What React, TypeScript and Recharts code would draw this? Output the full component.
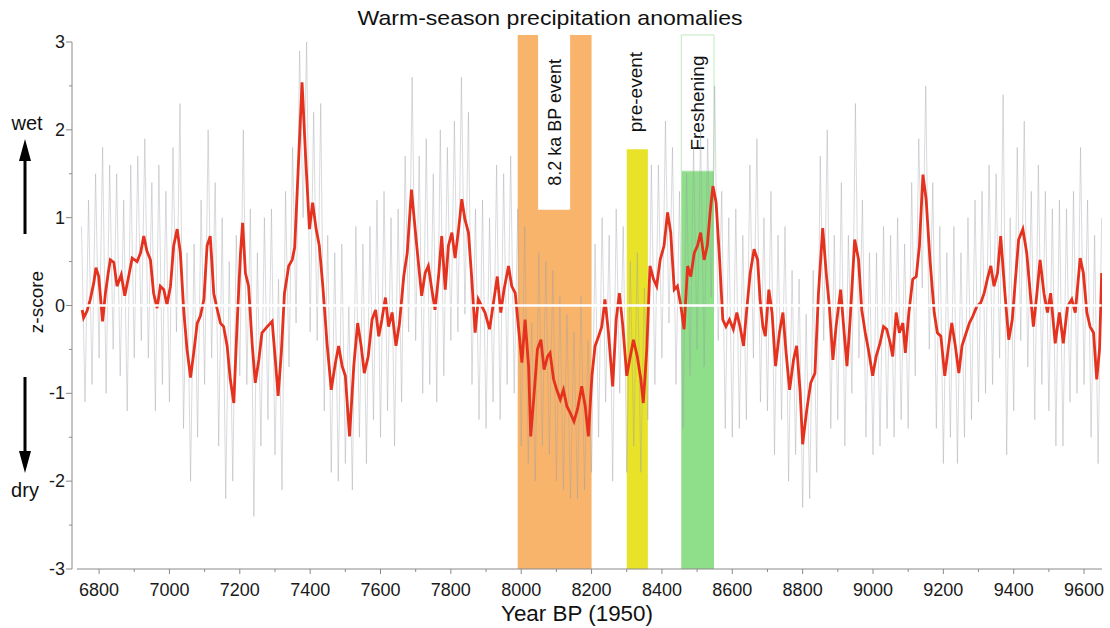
import {
  ComposedChart,
  Line,
  XAxis,
  YAxis,
  ReferenceArea,
  ReferenceLine,
} from "recharts";

// smoothed record (red)
const redYears = [
  6752, 6756, 6766, 6775, 6785, 6791, 6799, 6810, 6818, 6826, 6832, 6842, 6851, 6863, 6873, 6884, 6894, 6908, 6918, 6927,
  6936, 6946, 6955, 6965, 6974, 6984, 6993, 7003, 7012, 7022, 7031, 7041, 7050, 7060, 7069, 7079, 7088, 7098, 7107, 7116,
  7126, 7135, 7145, 7154, 7164, 7173, 7183, 7192, 7202, 7208, 7216, 7225, 7235, 7244, 7254, 7263, 7278, 7292, 7301, 7309,
  7318, 7327, 7339, 7349, 7356, 7366, 7377, 7387, 7398, 7407, 7417, 7426, 7436, 7448, 7460, 7472, 7481, 7491, 7500, 7512,
  7524, 7535, 7545, 7554, 7565, 7576, 7586, 7595, 7604, 7614, 7623, 7633, 7644, 7654, 7666, 7676, 7688, 7694, 7703, 7717,
  7727, 7736, 7746, 7755, 7765, 7774, 7784, 7793, 7803, 7812, 7822, 7831, 7840, 7850, 7859, 7869, 7878, 7888, 7897, 7910,
  7921, 7932, 7942, 7951, 7964, 7973, 7983, 7992, 8002, 8011, 8021, 8027, 8037, 8046, 8056, 8065, 8075, 8082, 8092, 8101,
  8111, 8120, 8130, 8139, 8150, 8160, 8172, 8182, 8191, 8201, 8210, 8220, 8229, 8238, 8248, 8260, 8270, 8279, 8289, 8300,
  8310, 8319, 8330, 8340, 8347, 8357, 8366, 8376, 8385, 8395, 8406, 8416, 8425, 8435, 8444, 8454, 8463, 8473, 8482, 8492,
  8501, 8510, 8520, 8529, 8537, 8545, 8554, 8564, 8573, 8582, 8592, 8603, 8613, 8622, 8632, 8641, 8651, 8662, 8672, 8679,
  8687, 8694, 8704, 8713, 8723, 8734, 8744, 8753, 8763, 8774, 8783, 8793, 8800, 8812, 8823, 8835, 8845, 8857, 8867, 8876,
  8886, 8895, 8908, 8918, 8926, 8935, 8948, 8959, 8968, 8978, 8987, 8999, 9009, 9020, 9030, 9039, 9049, 9056, 9066, 9075,
  9085, 9092, 9102, 9113, 9123, 9132, 9142, 9151, 9162, 9174, 9183, 9193, 9204, 9215, 9224, 9234, 9244, 9253, 9265, 9274,
  9284, 9295, 9306, 9316, 9325, 9335, 9344, 9354, 9363, 9375, 9386, 9396, 9405, 9414, 9426, 9437, 9447, 9456, 9466, 9475,
  9486, 9496, 9505, 9518, 9530, 9541, 9553, 9565, 9575, 9589, 9598, 9608, 9617, 9627, 9636, 9644, 9650,
];
const redValues = [
  -0.05, -0.14, -0.06, 0.07, 0.26, 0.43, 0.33, -0.18, 0.14, 0.37, 0.52, 0.49, 0.22, 0.35, 0.11, 0.33, 0.54, 0.5, 0.6, 0.79,
  0.62, 0.52, 0.14, -0.03, 0.22, 0.18, 0.01, 0.22, 0.68, 0.87, 0.6, -0.08, -0.5, -0.82, -0.54, -0.2, -0.12, 0.07, 0.68, 0.79,
  0.14, -0.03, -0.2, -0.24, -0.46, -0.84, -1.11, -0.24, 0.6, 0.94, 0.37, 0.22, -0.43, -0.88, -0.62, -0.31, -0.24, -0.18, -0.62, -1.03,
  -0.54, 0.14, 0.45, 0.52, 0.66, 1.55, 2.54, 1.7, 0.87, 1.17, 0.87, 0.68, 0.22, -0.43, -0.96, -0.65, -0.46, -0.69, -0.8, -1.49,
  -0.69, -0.2, -0.46, -0.77, -0.58, -0.16, -0.05, -0.35, -0.16, 0.09, -0.24, -0.08, -0.46, -0.2, 0.33, 0.6, 1.32, 1.06, 0.68, 0.11,
  0.37, 0.45, 0.18, -0.05, 0.33, 0.79, 0.18, 0.68, 0.83, 0.54, 0.87, 1.21, 0.98, 0.83, 0.33, -0.31, 0.07, -0.01, -0.08, -0.27,
  0.03, 0.33, -0.08, 0.18, 0.45, 0.22, 0.14, -0.24, -0.65, -0.16, -0.69, -1.49, -0.99, -0.5, -0.39, -0.73, -0.58, -0.54, -0.84, -0.96,
  -1.07, -0.96, -1.15, -1.22, -1.32, -1.18, -0.92, -1.15, -1.49, -0.8, -0.46, -0.35, -0.24, 0.07, -0.31, -0.92, -0.16, 0.14, -0.24, -0.8,
  -0.58, -0.39, -0.58, -0.84, -1.11, -0.5, 0.45, 0.3, 0.22, 0.52, 0.68, 1.06, 0.83, 0.18, 0.22, -0.01, -0.27, 0.45, 0.33, 0.6,
  0.68, 0.83, 0.52, 0.68, 1.06, 1.36, 1.17, 0.52, -0.16, -0.24, -0.16, -0.27, -0.08, -0.24, -0.46, -0.05, 0.37, 0.64, 0.52, 0.07,
  -0.24, -0.35, 0.18, -0.08, -0.69, -0.31, -0.08, -0.54, -0.96, -0.62, -0.46, -0.99, -1.58, -1.18, -0.88, -0.77, 0.14, 0.88, 0.37, -0.01,
  -0.62, -0.24, 0.18, -0.31, -0.69, -0.16, 0.75, 0.52, -0.05, -0.31, -0.5, -0.8, -0.58, -0.43, -0.24, -0.27, -0.43, -0.58, -0.08, -0.31,
  -0.2, -0.54, -0.08, 0.3, 0.33, 0.68, 1.49, 1.21, 0.52, -0.08, -0.31, -0.35, -0.8, -0.46, -0.2, -0.46, -0.77, -0.46, -0.31, -0.2,
  -0.12, -0.01, 0.03, 0.14, 0.3, 0.45, 0.22, 0.37, 0.79, 0.14, -0.39, -0.16, 0.3, 0.75, 0.87, 0.6, 0.14, -0.24, 0.14, 0.52,
  0.14, -0.08, 0.14, -0.43, -0.08, -0.43, -0.01, 0.07, -0.08, 0.54, 0.37, -0.08, -0.24, -0.31, -0.84, -0.5, 0.37,
];

// raw record (grey), one value every 10 years from 6750
const grayStart = 6750;
const grayStep = 10;
const grayValues = [
  0.9, -1.1, 1.2, -0.9, 1.5, -0.6, 1.8, -1.0, 1.6, -0.5,
  1.5, -0.8, 1.2, -1.2, 1.6, -0.6, 1.7, -0.4, 1.9, -0.6,
  1.4, -1.2, 1.6, -0.9, 1.3, -1.1, 1.8, -0.3, 2.3, -1.4,
  0.6, -2.0, 0.7, -1.5, 1.2, -0.9, 2.0, -0.6, 1.4, -1.6,
  1.0, -2.2, 0.5, -2.0, 0.8, -0.8, 2.0, -0.9, 1.1, -2.4,
  0.6, -1.6, 1.0, -1.3, 1.1, -1.7, 0.3, -2.1, 1.3, -0.7,
  1.8, -0.2, 2.9, 1.0, 3.0, -0.3, 2.2, -0.4, 2.3, -1.2,
  0.8, -1.9, 0.6, -2.0, 0.7, -1.8, 0.0, -2.1, 0.9, -1.5,
  0.7, -1.8, 0.9, -1.3, 1.2, -1.5, 1.3, -1.2, 1.0, -1.6,
  1.1, -1.1, 1.7, -0.3, 2.6, -0.4, 1.7, -1.0, 1.9, -0.9,
  1.5, -1.1, 2.0, -0.8, 1.8, -0.4, 2.1, -0.3, 2.6, -0.1,
  2.2, -0.9, 1.1, -1.3, 1.2, -1.4, 1.0, -1.1, 1.6, -1.3,
  1.5, -0.9, 1.7, -1.0, 1.1, -1.6, 0.9, -1.8, -0.2, -2.0,
  0.6, -1.6, 0.5, -1.7, 0.4, -2.0, 0.1, -2.1, -0.1, -2.2,
  -0.3, -2.2, 0.1, -2.1, -0.4, -1.9, 0.7, -1.5, 1.0, -1.1,
  0.8, -2.0, 1.1, -1.0, 0.9, -1.9, 0.5, -1.6, 0.6, -1.9,
  0.2, -1.3, 1.6, -0.9, 1.6, -0.6, 2.1, -0.2, 1.8, -0.9,
  1.3, -1.4, 1.5, -0.8, 1.8, -0.5, 2.0, -0.7, 1.9, 0.1,
  2.5, -0.4, 1.3, -1.4, 1.0, -1.5, 1.1, -1.4, 0.8, -1.3,
  1.6, -0.6, 1.9, -1.1, 1.0, -1.2, 1.3, -1.7, 0.8, -1.3,
  0.9, -2.0, 0.4, -1.7, 0.3, -2.3, -0.1, -2.2, 0.4, -1.9,
  1.7, -0.4, 2.0, -1.4, 0.8, -1.3, 1.4, -1.6, 0.8, -1.0,
  2.3, -0.6, 1.2, -1.5, 0.6, -1.7, 0.6, -1.6, 0.9, -1.4,
  0.8, -1.5, 1.0, -1.3, 0.7, -1.4, 1.4, -0.8, 1.9, 0.2,
  2.5, -0.5, 1.4, -1.4, 0.9, -1.8, 0.6, -1.5, 0.9, -1.8,
  0.6, -1.5, 1.0, -1.3, 1.2, -1.1, 1.3, -1.0, 1.6, -0.9,
  1.5, -0.6, 2.4, -1.7, 1.0, -1.2, 1.8, -0.4, 2.1, -0.7,
  1.3, -1.3, 1.6, -0.9, 1.3, -1.2, 1.1, -1.6, 1.2, -1.6,
  1.1, -1.1, 1.3, -1.0, 1.8, -0.9, 1.2, -1.5, 0.8, -1.8,
  1.0,
];

const xTicks = [
  6800, 6900, 7000, 7100, 7200, 7300, 7400, 7500, 7600, 7700, 7800, 7900, 8000, 8100, 8200,
  8300, 8400, 8500, 8600, 8700, 8800, 8900, 9000, 9100, 9200, 9300, 9400, 9500, 9600,
];
const yTicks = [-3, -2.5, -2, -1.5, -1, -0.5, 0, 0.5, 1, 1.5, 2, 2.5, 3];

// shaded periods
const eventBand = { from: 7990, to: 8200 };
const eventLabelBox = { from: 8048, to: 8139, bottom: 1.09 };
const preEventBand = { from: 8300, to: 8360, top: 1.78 };
const freshBand = { from: 8455, to: 8548, top: 1.53 };
const bandTop = 3.08;

const redData = redYears.map((year, i) => ({ year, z: redValues[i] }));
const grayData = grayValues.map((z, i) => ({ year: grayStart + i * grayStep, z }));

const AXIS = "#8a8a8a";
const FONT = "'Liberation Sans', Arial, sans-serif";

const YTick = ({ x, y, payload }: any) => {
  const v = payload.value;
  const major = Number.isInteger(v);
  return (
    <g>
      <line x1={x - (major ? 6 : 3)} x2={x} y1={y} y2={y} stroke={AXIS} />
      {major && (
        <text x={x - 7} y={y + 6} textAnchor="end" fontSize={18} fontFamily={FONT} fill="#1a1a1a">
          {v}
        </text>
      )}
    </g>
  );
};

const XTick = ({ x, y, payload }: any) => {
  const v = payload.value;
  const major = v % 200 === 0;
  return (
    <g>
      <line x1={x} x2={x} y1={y} y2={y + (major ? 5 : 3)} stroke={AXIS} />
      {major && (
        <text x={x} y={y + 27} textAnchor="middle" fontSize={18} fontFamily={FONT} fill="#1a1a1a">
          {v}
        </text>
      )}
    </g>
  );
};

const bandLabel = (text: string, size: number, shift: number) => (props: any) => {
  const vb = props.viewBox;
  const cx = vb.x + vb.width / 2 + size * shift;
  const cy = vb.y + vb.height / 2;
  return (
    <text
      x={cx}
      y={cy}
      transform={`rotate(-90 ${cx} ${cy})`}
      textAnchor="middle"
      fontSize={size}
      fontFamily={FONT}
      fill="#111"
    >
      {text}
    </text>
  );
};

export default function App() {
  return (
    <div style={{ position: "absolute", left: 0, top: 0, width: 1110, height: 628, background: "#fff" }}>
      <ComposedChart width={1110} height={628} margin={{ top: 42, right: 8, left: 42, bottom: 29 }}>
        <XAxis
          dataKey="year"
          type="number"
          domain={[6723, 9651]}
          allowDataOverflow
          ticks={xTicks}
          interval={0}
          axisLine={false}
          tickLine={false}
          tickSize={0}
          tickMargin={0}
          tick={<XTick />}
          height={30}
        />
        <YAxis
          type="number"
          domain={[-3, 3]}
          allowDataOverflow
          ticks={yTicks}
          interval={0}
          axisLine={{ stroke: AXIS }}
          tickLine={false}
          tickSize={0}
          tickMargin={0}
          tick={<YTick />}
          width={30}
        />
        <Line
          data={grayData}
          dataKey="z"
          type="linear"
          stroke="#9a9fa5"
          strokeOpacity={0.38}
          strokeWidth={1}
          dot={false}
          activeDot={false}
          isAnimationActive={false}
        />
        <ReferenceArea
          x1={eventBand.from}
          x2={eventBand.to}
          y1={-3}
          y2={bandTop}
          fill="#f8a752"
          fillOpacity={0.85}
          stroke="none"
          ifOverflow="visible"
        />
        <ReferenceArea
          x1={eventLabelBox.from}
          x2={eventLabelBox.to}
          y1={eventLabelBox.bottom}
          y2={bandTop}
          fill="#ffffff"
          fillOpacity={1}
          stroke="none"
          ifOverflow="visible"
          label={bandLabel("8.2 ka BP event", 18, 0.36)}
        />
        <ReferenceArea
          x1={preEventBand.from}
          x2={preEventBand.to}
          y1={-3}
          y2={preEventBand.top}
          fill="#e4dd04"
          fillOpacity={0.85}
          stroke="none"
          ifOverflow="visible"
        />
        <ReferenceArea
          x1={preEventBand.from}
          x2={preEventBand.to}
          y1={preEventBand.top}
          y2={bandTop}
          fill="none"
          fillOpacity={0}
          stroke="none"
          ifOverflow="visible"
          label={bandLabel("pre-event", 19, 0.27)}
        />
        <ReferenceArea
          x1={freshBand.from}
          x2={freshBand.to}
          y1={-3}
          y2={freshBand.top}
          fill="#7ad875"
          fillOpacity={0.85}
          stroke="none"
          ifOverflow="visible"
        />
        <ReferenceArea
          x1={freshBand.from}
          x2={freshBand.to}
          y1={freshBand.top}
          y2={bandTop}
          fill="#ffffff"
          fillOpacity={1}
          stroke="#bfe9bc"
          strokeWidth={1}
          ifOverflow="visible"
          label={bandLabel("Freshening", 19, 0.36)}
        />
        <Line
          data={redData}
          dataKey="z"
          type="linear"
          stroke="#e5321f"
          strokeWidth={2.8}
          dot={false}
          activeDot={false}
          isAnimationActive={false}
        />
        <ReferenceLine
          segment={[{ x: 6750, y: 0 }, { x: 9650, y: 0 }]}
          stroke="#ffffff"
          strokeWidth={2.5}
          ifOverflow="visible"
        />
        <ReferenceLine
          segment={[{ x: 6737, y: -3 }, { x: 9651, y: -3 }]}
          stroke={AXIS}
          strokeWidth={1}
          ifOverflow="visible"
        />
      </ComposedChart>
      <svg
        width={1110}
        height={628}
        style={{ position: "absolute", left: 0, top: 0, pointerEvents: "none" }}
        fontFamily={FONT}
      >
        <text x={550} y={25} textAnchor="middle" fontSize={21} fill="#111" textLength={385} lengthAdjust="spacingAndGlyphs">
          Warm-season precipitation anomalies
        </text>
        <text x={577} y={621} textAnchor="middle" fontSize={22} fill="#111" textLength={152} lengthAdjust="spacingAndGlyphs">
          Year BP (1950)
        </text>
        <text x={27} y={130} textAnchor="middle" fontSize={20} fill="#111">
          wet
        </text>
        <line x1={25} x2={25} y1={234} y2={158} stroke="#000" strokeWidth={3} />
        <polygon points="25,139 19,161 31,161" fill="#000" />
        <text x={25} y={497} textAnchor="middle" fontSize={20} fill="#111">
          dry
        </text>
        <line x1={25} x2={25} y1={377} y2={455} stroke="#000" strokeWidth={3} />
        <polygon points="25,473 19,451 31,451" fill="#000" />
        <text x={43} y={302} transform="rotate(-90 43 302)" textAnchor="middle" fontSize={19} fill="#111">
          z-score
        </text>
      </svg>
    </div>
  );
}
